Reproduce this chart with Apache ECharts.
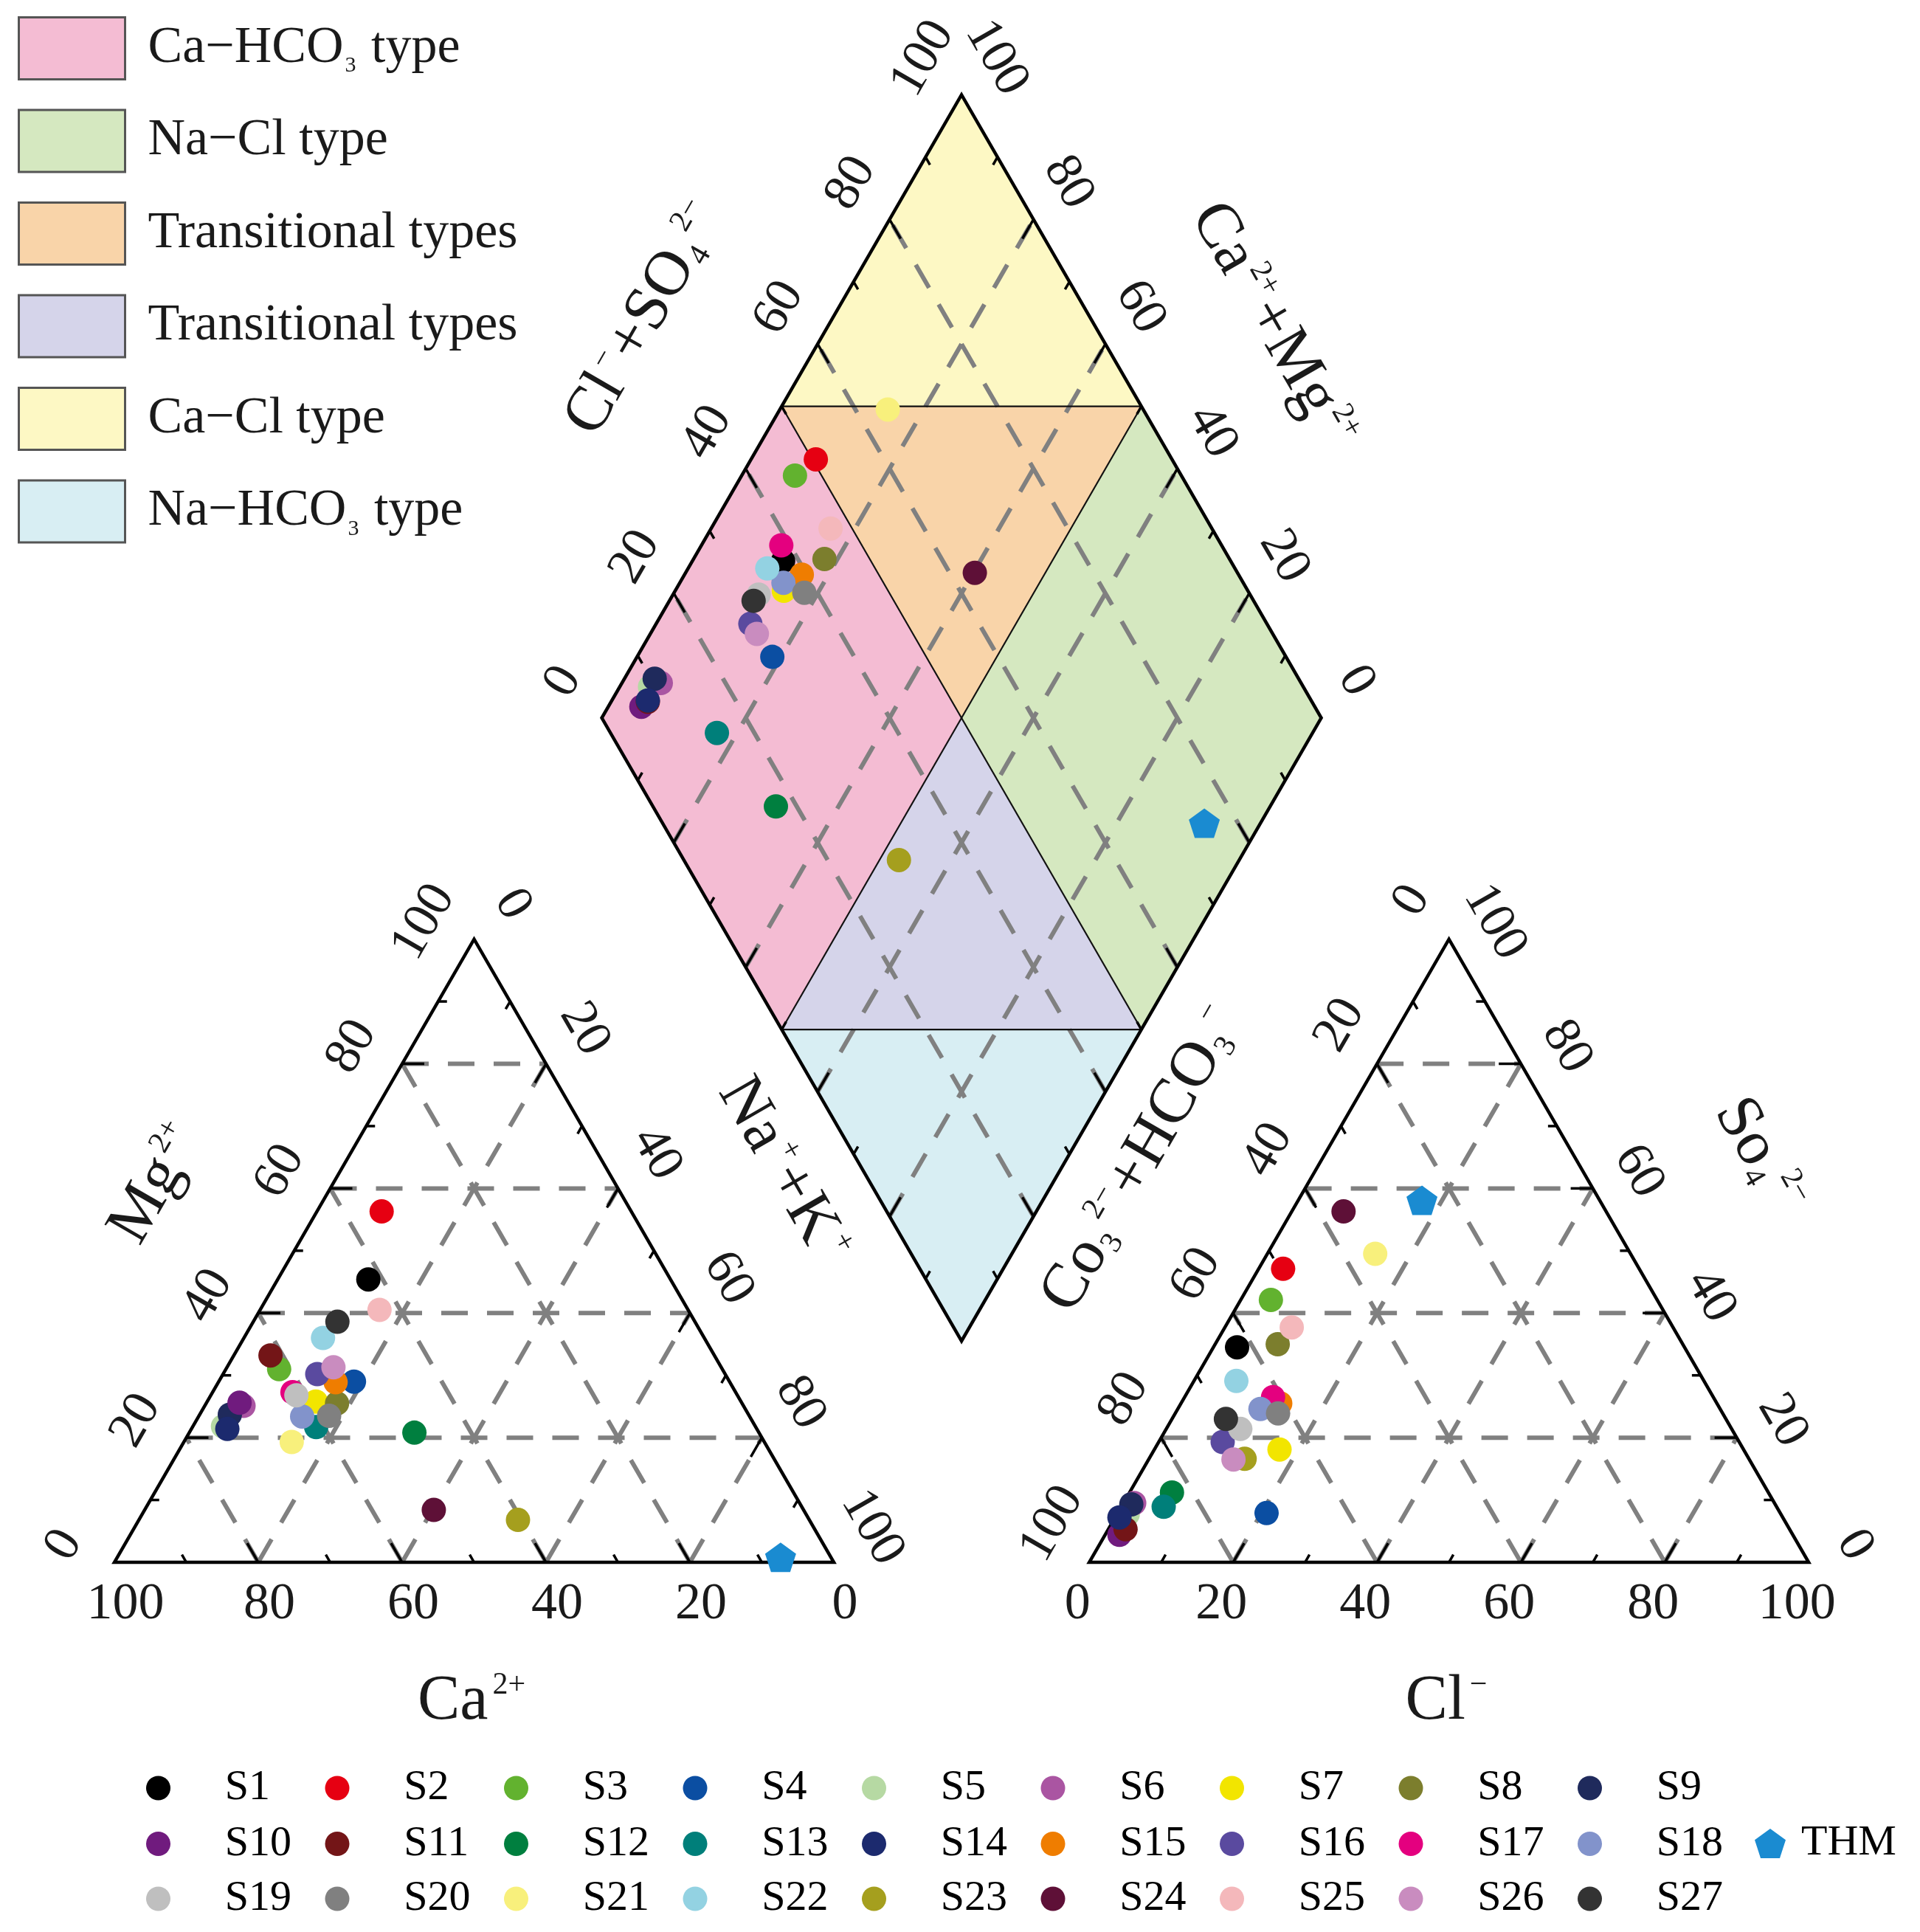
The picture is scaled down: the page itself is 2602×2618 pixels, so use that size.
<!DOCTYPE html>
<html>
<head>
<meta charset="utf-8">
<title>Piper diagram</title>
<script src="https://cdn.jsdelivr.net/npm/echarts@6.0.0/dist/echarts.min.js"></script>
<style>
html,body{margin:0;padding:0;background:#ffffff;}
#chart{width:2602px;height:2618px;}
</style>
</head>
<body>
<div id="chart"></div>
<script>
// ================= DATA =================
const sampleNames = ['S1','S2','S3','S4','S5','S6','S7','S8','S9','S10','S11','S12','S13','S14','S15','S16','S17','S18','S19','S20','S21','S22','S23','S24','S25','S26','S27','THM'];
const sampleColors = ['#000000','#e60012','#62b22f','#0b4ea2','#b6d9a3','#aa55a2','#f2e500','#7c7e2d','#1f2a5c','#701b7e','#731517','#007f3f','#007f7a','#1c2a6e','#ef7d00','#5a4a9f','#e4007f','#8293cb','#bfbfbf','#808080','#f8f07c','#93d2e2','#a59f1e','#5e1037','#f4b8bb','#c98cbf','#333333','#1a8bd1'];
// cations (% meq)
const caPct  = [42.0,34.7,61.6,52.2,74.0,69.5,59.1,56.3,72.1,69.8,61.7,47.9,61.1,73.6,54.8,56.7,61.6,62.2,61.3,58.4,65.7,53.0,40.5,51.4,42.9,53.9,49.7,7.0];
const mgPct  = [45.4,56.3,31.0,29.0,21.8,25.1,25.8,25.5,23.7,25.6,33.2,20.8,21.7,21.4,28.9,30.2,27.3,23.4,26.8,23.5,19.3,36.0,6.8,8.4,40.5,31.3,38.6,0.8];
const naKPct = [12.6,9.0,7.4,18.8,4.2,5.4,15.1,18.2,4.2,4.6,5.1,31.3,17.2,5.0,16.3,13.1,11.1,14.4,11.9,18.1,15.0,11.0,52.7,40.2,16.6,14.8,11.7,92.2];
// anions (% meq)
const hco3Pct = [62.2,49.5,53.7,71.4,90.8,89.0,64.5,56.3,89.5,93.6,92.3,82.9,85.2,92.2,60.7,71.8,61.2,63.9,68.3,61.8,35.5,65.0,70.1,36.5,53.0,71.7,69.5,24.7];
const so4Pct  = [34.5,47.1,42.1,7.9,7.7,9.5,18.1,35.0,9.3,4.4,5.3,11.2,8.9,7.2,25.5,19.3,26.5,24.6,21.4,23.9,49.5,29.1,16.6,56.3,37.7,16.5,23.0,58.1];
const clPct   = [3.3,3.4,4.2,20.7,1.5,1.5,17.4,8.7,1.2,2.0,2.4,5.9,5.9,0.6,13.8,8.9,12.3,11.5,10.3,14.3,15.0,5.9,13.3,7.2,9.3,11.8,7.5,17.2];

const tickLabelValues = [0,20,40,60,80,100];
const gridValues = [20,40,60,80];
const minorTickValues = [10,30,50,70,90];

const regionNames  = ['Ca−HCO3 type','Na−Cl type','Transitional types','Transitional types ','Ca−Cl type','Na−HCO3 type'];
const regionColors = ['#f4bcd3','#d5e8c0','#f9d4a9','#d5d4ea','#fdf8c4','#d8eef3'];
// region polygons in diamond percentages [Cl+SO4, Ca+Mg]
const regionPolys = [
  [[0,100],[50,100],[50,50],[0,50]],
  [[50,50],[100,50],[100,0],[50,0]],
  [[50,100],[100,50],[50,50]],
  [[50,50],[50,0],[0,50]],
  [[50,100],[100,100],[100,50]],
  [[0,50],[50,0],[0,0]]
];

// ================= LAYOUT =================
const W = 2602, H = 2618;
const PX = 9.75;              // pixels per percent of triangle side
const OX = 155, OY = 2117;    // pixel position of the 100% Ca corner
const TH = 100*Math.sqrt(3)/2;
const XR = 135.5;             // x offset of the anion triangle
const DB = [(100+XR)/2, (XR-100)/2*Math.sqrt(3)];
const DL = [DB[0]-50, DB[1]+TH];
const DR = [DB[0]+50, DB[1]+TH];
function dia(a,c){ return [DB[0] + c/100*(DL[0]-DB[0]) + a/100*(DR[0]-DB[0]), DB[1] + c/100*(DL[1]-DB[1]) + a/100*(DR[1]-DB[1])]; }
function cat(mg,na){ return [na + mg/2, mg*TH/100]; }
function ani(so4,cl){ return [XR + cl + so4/2, so4*TH/100]; }

const FONT = 'Liberation Serif';
const TXT = '#1a1a1a';
const S3 = Math.sqrt(3)/2;

const axes = [
  {pt:v=>cat(0,100-v),        dir:[-0.5, S3], off:[15,58],  rot:0,   labels:true},  // Ca
  {pt:v=>cat(v,0),            dir:[1,0],      off:[-68,-23],rot:60,  labels:true},  // Mg
  {pt:v=>cat(100-v,v),        dir:[-0.5,-S3], off:[52,-47], rot:-60, labels:true},  // Na+K
  {pt:v=>ani(0,v),            dir:[0.5, S3],  off:[-16,58], rot:0,   labels:true},  // Cl
  {pt:v=>ani(100-v,0),        dir:[0.5,-S3],  off:[-50,-52],rot:60,  labels:true},  // CO3+HCO3
  {pt:v=>ani(v,100-v),        dir:[-1,0],     off:[62,-23], rot:-60, labels:true},  // SO4
  {pt:v=>dia(v,100),          dir:[0.5,-S3],  off:[-52,-49],rot:60,  labels:true},  // Cl+SO4
  {pt:v=>dia(100,v),          dir:[-0.5,-S3], off:[47,-50], rot:-60, labels:true},  // Ca+Mg
  {pt:v=>dia(0,v),            dir:[0.5, S3],  labels:false},
  {pt:v=>dia(v,0),            dir:[-0.5, S3], labels:false}
];

const titleRich = {
  n:{fontSize:86, fontFamily:FONT},
  sp:{fontSize:42, fontFamily:FONT, verticalAlign:'top', padding:[0,4,0,6]},
  sb:{fontSize:42, fontFamily:FONT, verticalAlign:'bottom', padding:[0,0,0,2]}
};
const titles = [
  {px:[641,2306],  rot:0,   text:'{n|Ca}{sp|2+}'},
  {px:[1962,2306], rot:0,   text:'{n|Cl}{sp|−}'},
  {px:[213,1603],  rot:60,  text:'{n|Mg}{sp|2+}'},
  {px:[1062,1588], rot:-60, text:'{n|Na}{sp|+}{n|+K}{sp|+}'},
  {px:[1549,1570], rot:60,  text:'{n|Co}{sb|3}{sp|2−}{n|+HCO}{sb|3}{sp|−}'},
  {px:[2385,1568], rot:-60, text:'{n|So}{sb|4}{sp|2−}'},
  {px:[875,431],   rot:60,  text:'{n|Cl}{sp|−}{n|+SO}{sb|4}{sp|2−}'},
  {px:[1726,443],  rot:-60, text:'{n|Ca}{sp|2+}{n|+Mg}{sp|2+}'}
];

function renderFrame(params, api){
  const P = p => api.coord(p);
  const ch = [];
  const line = (p,q,style) => { const a=P(p), b=P(q); ch.push({type:'line', shape:{x1:a[0],y1:a[1],x2:b[0],y2:b[1]}, style:style}); };
  const dashed = {stroke:'#808080', lineWidth:6, lineDash:[36,26]};
  gridValues.forEach(v => {
    line(cat(v,0), cat(v,100-v), dashed);
    line(cat(0,100-v), cat(100-v,0), dashed);
    line(cat(0,v), cat(100-v,v), dashed);
    line(ani(v,0), ani(v,100-v), dashed);
    line(ani(0,100-v), ani(100-v,0), dashed);
    line(ani(0,v), ani(100-v,v), dashed);
    line(dia(v,0), dia(v,100), dashed);
    line(dia(0,v), dia(100,v), dashed);
  });
  const thin = {stroke:'#111111', lineWidth:2.2};
  line(dia(50,0), dia(50,100), thin);
  line(dia(0,50), dia(100,50), thin);
  line(dia(50,100), dia(100,50), thin);
  line(dia(0,50), dia(50,0), thin);
  const outline = pts => ch.push({type:'polygon', shape:{points:pts.map(P)}, style:{fill:'none', stroke:'#000000', lineWidth:4.5, lineJoin:'miter'}});
  outline([cat(0,0), cat(100,0), cat(0,100)]);
  outline([ani(0,0), ani(100,0), ani(0,100)]);
  outline([dia(0,0), dia(0,100), dia(100,100), dia(100,0)]);
  axes.forEach(ax => {
    const tk = (v,len) => { const p=P(ax.pt(v)); ch.push({type:'line', shape:{x1:p[0],y1:p[1],x2:p[0]+ax.dir[0]*len,y2:p[1]-ax.dir[1]*len}, style:{stroke:'#000000', lineWidth:3.5}}); };
    gridValues.forEach(v => tk(v,30));
    minorTickValues.forEach(v => tk(v,12));
    if (ax.labels) {
      tickLabelValues.forEach(v => {
        const p = P(ax.pt(v));
        ch.push({type:'text', x:p[0]+ax.off[0], y:p[1]+ax.off[1], rotation:ax.rot*Math.PI/180,
          style:{text:String(v), fontSize:70, fontFamily:FONT, fill:TXT, align:'center', verticalAlign:'middle', textAlign:'center', textVerticalAlign:'middle'}});
      });
    }
  });
  titles.forEach(t => {
    ch.push({type:'text', x:t.px[0], y:t.px[1], rotation:t.rot*Math.PI/180,
      style:{text:t.text, rich:titleRich, fontSize:86, fontFamily:FONT, fill:TXT, align:'center', verticalAlign:'middle', textAlign:'center', textVerticalAlign:'middle'}});
  });
  return {type:'group', children:ch};
}

const regionSeries = regionNames.map((name,i) => ({
  type:'custom', name:name, coordinateSystem:'cartesian2d', data:[[0,0]], z:1, silent:true, clip:false,
  itemStyle:{color:regionColors[i]},
  renderItem:(params, api) => ({type:'polygon', shape:{points:regionPolys[i].map(q => api.coord(dia(q[0],q[1])))}, style:{fill:regionColors[i], stroke:'none'}})
}));

const frameSeries = {type:'custom', name:'frame', coordinateSystem:'cartesian2d', data:[[0,0]], z:2, silent:true, clip:false, renderItem:renderFrame};

const PENTAGON = 'path://M50,0 L97.55,34.55 L79.39,90.45 L20.61,90.45 L2.45,34.55 Z';
const pointSeries = sampleNames.map((name,i) => ({
  type:'scatter', name:name, z:3, silent:true, clip:false,
  symbol: name==='THM' ? PENTAGON : 'circle',
  symbolSize: name==='THM' ? [42,40] : 33,
  itemStyle:{color:sampleColors[i], opacity:1},
  emphasis:{disabled:true},
  data:[
    cat(mgPct[i], naKPct[i]),
    ani(so4Pct[i], clPct[i]),
    dia(so4Pct[i]+clPct[i], caPct[i]+mgPct[i])
  ]
}));

function regionFmt(name){
  const t = name.trim();
  if (t.indexOf('HCO3') >= 0) { const parts = t.split('HCO3'); return '{n|' + parts[0] + 'HCO}{s|3}{n|' + parts[1] + '}'; }
  return '{n|' + t + '}';
}
const rowLegend = (names, top) => ({
  data:names, left:198, top:top, orient:'horizontal', padding:0,
  itemWidth:33, itemHeight:33, itemGap:35.8, selectedMode:false,
  formatter: name => '{a|' + name + '}',
  textStyle:{padding:[0,0,0,68.7], rich:{a:{width:100, height:33, lineHeight:33, fontSize:58, fontFamily:FONT, color:'#000000'}}}
});

const option = {
  animation:false,
  textStyle:{fontFamily:FONT},
  grid:{left:0,right:0,top:0,bottom:0},
  xAxis:{type:'value', min:-OX/PX, max:(W-OX)/PX, show:false},
  yAxis:{type:'value', min:-(H-OY)/PX, max:OY/PX, show:false},
  legend:[
    {data:regionNames, orient:'vertical', left:24, top:22, padding:0, itemWidth:144, itemHeight:84, itemGap:38.5,
     icon:'rect', selectedMode:false, itemStyle:{borderColor:'#555555', borderWidth:3},
     formatter:regionFmt,
     textStyle:{padding:[0,0,0,26], rich:{
       n:{fontSize:70, lineHeight:78, fontFamily:FONT, color:TXT},
       s:{fontSize:30, lineHeight:30, fontFamily:FONT, color:TXT, verticalAlign:'bottom', padding:[0,3,0,2]}
     }}},
    rowLegend(sampleNames.slice(0,9), 2394),
    rowLegend(sampleNames.slice(9,18), 2469.5),
    rowLegend(sampleNames.slice(18,27), 2544),
    {data:['THM'], left:2378, top:2469, padding:0, itemWidth:42, itemHeight:40, icon:PENTAGON, selectedMode:false,
     formatter: name => '{a|' + name + '}',
     textStyle:{padding:[0,0,0,16], rich:{a:{height:40, lineHeight:40, fontSize:58, fontFamily:FONT, color:'#000000'}}}}
  ],
  series:[...regionSeries, frameSeries, ...pointSeries]
};

const chart = echarts.init(document.getElementById('chart'), null, {renderer:'canvas', width:W, height:H});
chart.setOption(option);
</script>
</body>
</html>
